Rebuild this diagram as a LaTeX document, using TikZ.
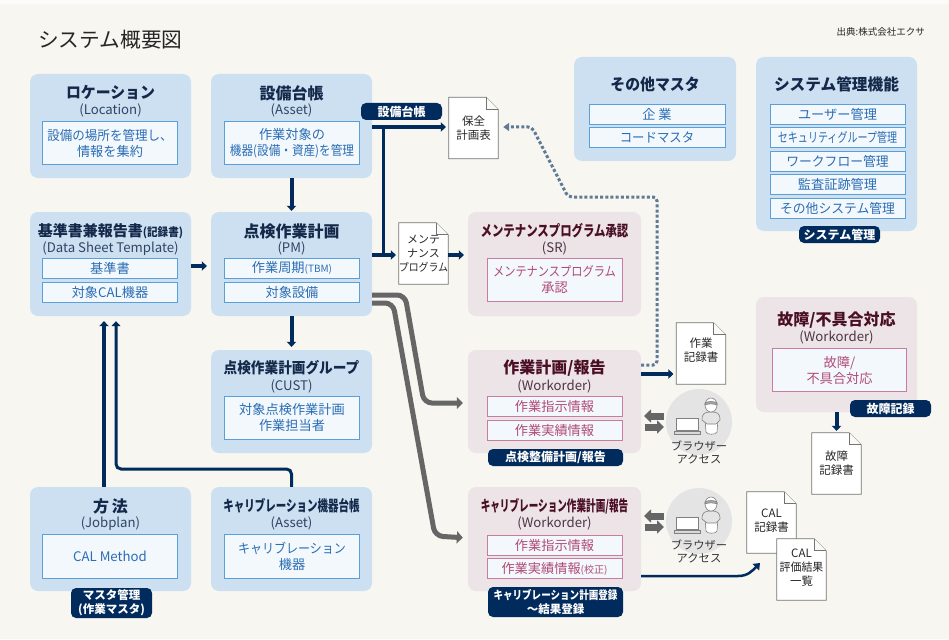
\documentclass[tikz,border=0pt]{standalone}
\usepackage{fontspec}
\setmainfont{Noto Sans CJK JP}
\usetikzlibrary{arrows.meta,calc}
\definecolor{bgc}{HTML}{F7F6F0}
\definecolor{blueg}{HTML}{CCE0F2}
\definecolor{pinkg}{HTML}{EDE4E8}
\definecolor{innerf}{HTML}{F3F8FC}
\definecolor{blueb}{HTML}{5B9FD8}
\definecolor{pinkb}{HTML}{C97BA0}
\definecolor{bluet}{HTML}{2A6DB5}
\definecolor{pinkt}{HTML}{B04A78}
\definecolor{navy}{HTML}{002B5C}
\definecolor{titleb}{HTML}{14294A}
\definecolor{titlep}{HTML}{4A0F24}
\definecolor{subb}{HTML}{2F4564}
\definecolor{subp}{HTML}{4E3444}
\definecolor{arrowg}{HTML}{666666}
\definecolor{dotc}{HTML}{5F7A96}
\definecolor{circ}{HTML}{E4E4E4}
\newcommand\fz[2]{\fontsize{#1}{#2}\selectfont}
\newcommand\nar[2]{\scalebox{#1}[1]{#2}}
\newcommand\docsh[1]{\draw[docline] (#1.north west) -- ([xshift=-12pt]#1.north east) -- ([yshift=-12pt]#1.north east) -- (#1.south east) -- (#1.south west) -- cycle;
  \draw[docline,fill=bgc!60!white] ([xshift=-12pt]#1.north east) -- ([xshift=-12pt,yshift=-12pt]#1.north east) -- ([yshift=-12pt]#1.north east);}
\newcommand\browser[3]{% name, cx, cy
  \node[circle,fill=circ,minimum size=66pt,inner sep=0pt] (#1) at (#2,#3) {};
  \begin{scope}[shift={(#2-699,#3-422)},draw=black!50,line width=.6pt]
    \draw[fill=white] (676.5,418) rectangle (698.5,430);
    \draw[fill=black!15] (674,431.5) rectangle (700,434);
    \draw[fill=white] (705,419) -- (718,419) -- (717,432) .. controls (716,435) and (707,435) .. (706,432) -- cycle;
    \draw[fill=circ] (702,420) .. controls (702,413) and (705,412) .. (711,412) .. controls (717,412) and (720,413) .. (720,420) -- (716,424) -- (707,424) -- cycle;
    \draw[fill=white] (711,405) ellipse (6 and 7);
    \draw[fill=black!35] (705,403) .. controls (708,401) and (714,401) .. (717,403) -- (717,405) .. controls (714,403.5) and (708,403.5) .. (705,405) -- cycle;
  \end{scope}
}
\tikzset{
  grp/.style={rounded corners=8pt,inner sep=0pt,minimum width=161pt,minimum height=104pt},
  bgrp/.style={grp,fill=blueg},
  pgrp/.style={grp,fill=pinkg},
  ibox/.style={draw,line width=.8pt,fill=innerf,inner sep=0pt,align=center,font=\fz{13.2}{16}},
  bbox/.style={ibox,draw=blueb,text=bluet},
  pbox/.style={ibox,draw=pinkb,text=pinkt},
  btitle/.style={text=titleb,font=\fz{16}{18}\bfseries,inner sep=0pt,yshift=-1pt},
  ptitle/.style={text=titlep,font=\fz{16}{18}\bfseries,inner sep=0pt,yshift=-1pt},
  bsub/.style={text=subb,font=\fz{13.2}{15},inner sep=0pt,yshift=-1.5pt},
  psub/.style={text=subp,font=\fz{13.2}{15},inner sep=0pt,yshift=-1.5pt},
  badge/.style={fill=navy,rounded corners=5pt,text=white,inner sep=0pt,align=center,font=\fz{12}{14}\bfseries},
  docbox/.style={inner sep=0pt,minimum width=49pt,minimum height=61pt,align=center,text=black!85,font=\fz{11.5}{14}},
  docline/.style={draw=black!55,line width=.8pt,fill=white},
  conn/.style={draw=navy,line width=4pt,-{Triangle[length=5pt,width=9.5pt]}},
  connt/.style={draw=navy,line width=3pt,-{Triangle[length=5pt,width=9pt]}},
  gconn/.style={draw=arrowg,line width=5pt,rounded corners=8pt,-{Triangle[length=6pt,width=12pt]}},
  dconn/.style={draw=dotc,line width=3pt,dash pattern=on 3pt off 2.2pt,rounded corners=4pt,-{Triangle[length=6pt,width=8pt]}},
  xconn/.style={draw=arrowg,line width=7pt,-{Triangle[length=7pt,width=13pt]}},
}
\begin{document}
\begin{tikzpicture}[x=1pt,y=-1pt]
\useasboundingbox (0,0) rectangle (949,639);
\fill[bgc] (0,0) rectangle (949,639);
\fill[white!60!bgc] (0,0) rectangle (949,4);
\node[inner sep=0pt,anchor=west,font=\fz{20.7}{24},text=black!85] (ttl) at (38,40) {システム概要図};
\node[inner sep=0pt,anchor=east,font=\fz{9.5}{11},text=black!85] (src) at (925,32) {出典:株式会社エクサ};
% --- left groups
\node[bgrp] (loc) at (110.5,126) {};
\node[btitle] (loct) at (110.5,92) {\nar{.93}{ロケーション}};
\node[bsub] (locs) at (110.5,109) {(Location)};
\node[bbox,minimum width=135pt,minimum height=43pt] (loci) at (110,143) {\nar{.95}{設備の場所を管理し、}\\情報を集約};
\node[bgrp] (asset) at (291.5,126) {};
\node[btitle] (assett) at (291.5,92) {設備台帳};
\node[bsub] (assets) at (291.5,109) {(Asset)};
\node[bbox,minimum width=135pt,minimum height=43pt] (asseti) at (292,143) {作業対象の\\\nar{.88}{機器(設備・資産)を管理}};
\node[bgrp] (dst) at (110.5,264) {};
\node[btitle] (dstt) at (110.5,230) {\fz{15}{18}基準書兼報告書{\nar{.92}{\fz{11.5}{14}(記録書)}}};
\node[bsub] (dsts) at (110.5,247) {(Data Sheet Template)};
\node[bbox,minimum width=135pt,minimum height=20pt] (dsta) at (110,268) {基準書};
\node[bbox,minimum width=135pt,minimum height=20pt] (dstb) at (110,292) {対象CAL機器};
\node[bgrp] (pm) at (291.5,264) {};
\node[btitle] (pmt) at (291.5,230) {点検作業計画};
\node[bsub] (pms) at (291.5,247) {(PM)};
\node[bbox,minimum width=135pt,minimum height=20pt] (pma) at (292,268) {作業周期{\fz{10}{12}(TBM)}};
\node[bbox,minimum width=135pt,minimum height=20pt] (pmb) at (292,292) {対象設備};
\node[bgrp,minimum height=103pt] (cust) at (291.5,401.5) {};
\node[btitle] (custt) at (291.5,367) {\nar{.91}{\fz{15}{18}点検作業計画グループ}};
\node[bsub] (custs) at (291.5,385) {(CUST)};
\node[bbox,minimum width=135pt,minimum height=43pt] (custi) at (292,417.5) {対象点検作業計画\\作業担当者};
\node[bgrp] (job) at (110.5,539) {};
\node[btitle] (jobt) at (110.5,505) {方\,法};
\node[bsub] (jobs) at (110.5,522) {(Jobplan)};
\node[bbox,minimum width=135pt,minimum height=44pt] (jobi) at (110,556) {CAL Method};
\node[bgrp] (calas) at (291.5,539) {};
\node[btitle] (calast) at (291.5,505) {\nar{.7}{\fz{15}{18}キャリブレーション機器台帳}};
\node[bsub] (calass) at (291.5,522) {(Asset)};
\node[bbox,minimum width=135pt,minimum height=44pt] (calasi) at (292,556) {\nar{.91}{キャリブレーション}\\機器};
% --- centre groups
\node[pgrp,minimum width=173pt] (sr) at (554.5,264) {};
\node[ptitle] (srt) at (554.5,230) {\nar{.76}{\fz{15}{18}メンテナンスプログラム承認}};
\node[psub] (srs) at (554.5,247) {(SR)};
\node[pbox,minimum width=135pt,minimum height=43pt] (sri) at (554.5,280) {\nar{.85}{メンテナンスプログラム}\\承認};
\node[pgrp,minimum width=173pt,minimum height=103pt] (wo) at (554.5,401.5) {};
\node[ptitle] (wot) at (554.5,367) {作業計画/報告};
\node[psub] (wos) at (554.5,385) {(Workorder)};
\node[pbox,minimum width=135pt,minimum height=20pt] (woa) at (554.5,406.5) {作業指示情報};
\node[pbox,minimum width=135pt,minimum height=20pt] (wob) at (554.5,430) {作業実績情報};
\node[pgrp,minimum width=173pt] (cwo) at (554.5,539) {};
\node[ptitle] (cwot) at (554.5,505) {\nar{.64}{\fz{15}{18}キャリブレーション作業計画/報告}};
\node[psub] (cwos) at (554.5,522) {(Workorder)};
\node[pbox,minimum width=135pt,minimum height=20pt] (cwoa) at (554.5,545) {作業指示情報};
\node[pbox,minimum width=135pt,minimum height=20pt] (cwob) at (554.5,568.5) {作業実績情報{\fz{10}{12}(校正)}};
% --- right groups
\node[bgrp,minimum width=162pt] (oth) at (655,109) {};
\node[btitle] (otht) at (655,83) {\nar{.93}{その他マスタ}};
\node[bbox,minimum width=136pt,minimum height=20pt] (otha) at (657,114.5) {企 業};
\node[bbox,minimum width=136pt,minimum height=20pt] (othb) at (657,137.5) {\nar{.94}{コードマスタ}};
\node[bgrp,minimum height=174pt] (sys) at (836.5,144) {};
\node[btitle] (syst) at (836.5,83) {\nar{.98}{システム管理機能}};
\node[bbox,minimum width=135pt,minimum height=20pt] (sysa) at (837.5,114.5) {ユーザー管理};
\node[bbox,minimum width=135pt,minimum height=20pt] (sysb) at (837.5,137.5) {\nar{.76}{セキュリティグループ管理}};
\node[bbox,minimum width=135pt,minimum height=20pt] (sysc) at (837.5,161) {\nar{.97}{ワークフロー管理}};
\node[bbox,minimum width=135pt,minimum height=20pt] (sysd) at (837.5,184.5) {監査証跡管理};
\node[bbox,minimum width=135pt,minimum height=20pt] (syse) at (837.5,208) {\nar{.97}{その他システム管理}};
\node[pgrp,minimum height=115pt] (flt) at (836.5,354.5) {};
\node[ptitle] (fltt) at (836.5,319) {故障/不具合対応};
\node[psub] (flts) at (836.5,336) {(Workorder)};
\node[pbox,minimum width=134pt,minimum height=43pt] (flti) at (839.5,370) {故障/\\不具合対応};
% --- connectors under badges and docs
\coordinate (busa) at (383,127);
\coordinate (busb) at (383,255);
\draw[conn,shorten >=1pt] (asset.south) -- (pm.north);
\draw[conn,shorten >=1pt] ([yshift=-2pt]dst.east) -- ([yshift=-2pt,xshift=-3pt]pm.west);
\draw[conn,shorten >=3pt] (pm.south) -- (cust.north);
% docs
\node[docbox] (hoz) at (473.5,128) {};
\docsh{hoz}\node[docbox] at (hoz) {保全\\計画表};
\node[docbox] (ment) at (423.5,253.5) {};
\docsh{ment}\node[docbox] at (ment) {\fz{11}{13.5}メンテ\\\fz{11}{13.5}ナンス\\\nar{.9}{\fz{11}{13.5}プログラム}};
\node[docbox] (wdoc) at (701,353.5) {};
\docsh{wdoc}\node[docbox] at ([yshift=3pt]wdoc.center) {作業\\記録書};
\node[docbox] (fdoc) at (836.5,463.5) {};
\docsh{fdoc}\node[docbox] at (fdoc) {故障\\記録書};
\node[docbox] (cdoc) at (771.5,522.5) {};
\docsh{cdoc}\node[docbox] at ([yshift=2pt]cdoc.center) {CAL\\記録書};
\node[docbox] (edoc) at (801.5,569.5) {};
\docsh{edoc}\node[docbox] at ([yshift=2pt]edoc.center) {CAL\\\nar{.95}{評価結果}\\一覧};
% connectors
\draw[conn,shorten >=3pt] ([yshift=-1pt]asset.east) -- ([yshift=1pt]hoz.west);
\draw[draw=navy,line width=3pt] (busa) -- (busb);
\draw[conn,shorten >=3pt] ([yshift=9pt]pm.east) -- ([yshift=-1.5pt]ment.west);
\draw[conn,shorten >=4pt] ([yshift=-1.5pt]ment.east) -- ([yshift=9pt]sr.west);
\draw[gconn,shorten >=5pt] ([yshift=-31pt]pm.east) -- (405,295) -- (424,403) -- ([yshift=-1.5pt]wo.west);
\draw[gconn,shorten >=5pt] ([yshift=-39pt]pm.east) -- (393,303) -- (435,536) -- ([yshift=1pt]cwo.west);
\draw[conn,shorten >=3pt] ([yshift=27.5pt]wo.east) -- ([yshift=-20.5pt]wdoc.west);
\draw[conn,shorten >=2pt] (flt.south) -- (fdoc.north);
\draw[conn,shorten >=5pt] ([xshift=-6.5pt]job.north) -- ([xshift=-6.5pt]dst.south);
\draw[connt,rounded corners=5pt,shorten >=5pt] (calas.north) -- (291.5,469) -- (116,469) -- ([xshift=5.5pt]dst.south);
\draw[dconn,shorten >=5pt] ([yshift=36.5pt]wo.east) -- (657,365) -- (657,197) -- (568,197) -- (532,127) -- ([yshift=1pt]hoz.east);
\coordinate (calend) at (760,563);
\draw[navy,line width=2.5pt,-{Triangle[length=6pt,width=9pt]}] ([yshift=-37pt]cwo.east) -- (738,576) .. controls (748,576) and (752,571) .. (calend);
% browser
\browser{bra}{699}{422}
\browser{brb}{699}{521}
\node[inner sep=0pt,align=center,text=black!80,font=\fz{11.3}{13}] (brat) at (699,452) {ブラウザー\\アクセス};
\node[inner sep=0pt,align=center,text=black!80,font=\fz{11.3}{13}] (brbt) at (699,551) {ブラウザー\\アクセス};
\coordinate (xa1) at (664,416); \coordinate (xa2) at (644,416);
\coordinate (xb1) at (645,427); \coordinate (xb2) at (664,427);
\draw[xconn] (xa1) -- (xa2);
\draw[xconn] (xb1) -- (xb2);
\coordinate (xc1) at (664,516); \coordinate (xc2) at (644,516);
\coordinate (xd1) at (645,527); \coordinate (xd2) at (664,527);
\draw[xconn] (xc1) -- (xc2);
\draw[xconn] (xd1) -- (xd2);
% badges
\node[badge,minimum width=81pt,minimum height=17pt] (ba) at (401.5,111.5) {設備台帳};
\node[badge,minimum width=81pt,minimum height=17pt] (bb) at (839.5,234.5) {システム管理};
\node[badge,minimum width=81pt,minimum height=17pt] (bc) at (890.5,408.5) {故障記録};
\node[badge,minimum width=135pt,minimum height=17pt] (bd) at (555.5,457.5) {点検整備計画/報告};
\node[badge,minimum width=135pt,minimum height=30pt,font=\fz{11.5}{13.5}\bfseries] (be) at (555.5,602) {\nar{.83}{キャリブレーション計画登録}\\〜結果登録};
\node[badge,minimum width=81pt,minimum height=30pt,font=\fz{11.5}{14}\bfseries] (bf) at (111.5,603) {マスタ管理\\(作業マスタ)};
\end{tikzpicture}
\end{document}
